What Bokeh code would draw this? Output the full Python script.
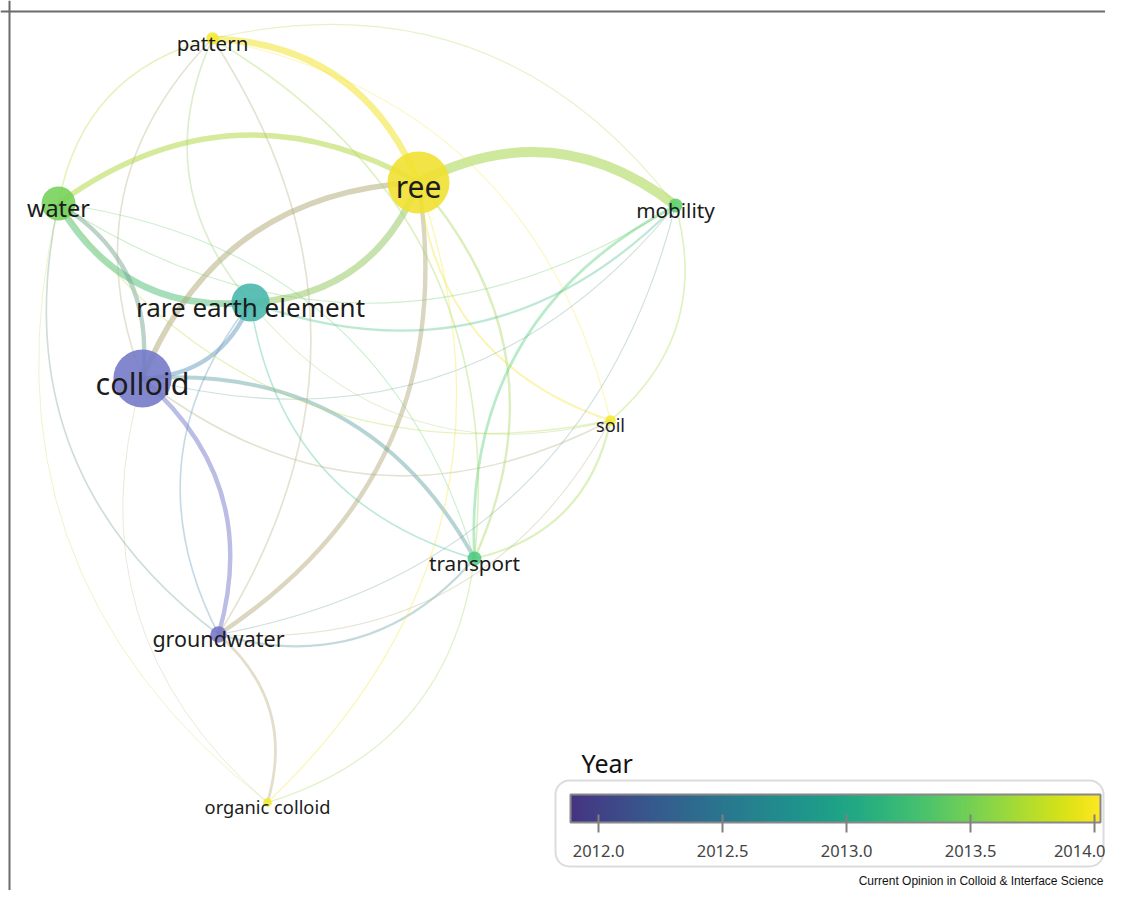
import numpy as np
from bokeh.plotting import figure
from bokeh.models import (Range1d, Span, ColumnDataSource, ColorBar, LinearColorMapper,
                          FixedTicker, PrintfTickFormatter, Label)
from bokeh.palettes import Viridis256
from bokeh.core.properties import value
from bokeh.embed import file_html
from bokeh.resources import INLINE

# ---------------- data ----------------
terms = ["pattern", "ree", "water", "mobility", "rare earth element", "colloid",
         "soil", "transport", "groundwater", "organic colloid"]
term_x = [212, 418, 58, 675, 250, 142, 610, 474, 218, 267]        # map layout coordinates
term_y = [38, 182, 203, 205, 302, 378, 420, 558, 634, 802]
occurrences = [4, 100, 30, 5, 38, 88, 3, 5, 7, 2]
avg_pub_year = [2014.10, 2014.00, 2013.55, 2013.45, 2013.00, 2012.10,
                2014.10, 2013.35, 2012.05, 2014.10]

link_source = ["ree", "pattern", "water", "rare earth element", "ree", "colloid",
               "rare earth element", "water", "colloid", "ree", "colloid", "ree",
               "soil", "transport", "pattern", "mobility", "soil", "mobility",
               "groundwater", "transport", "water", "colloid", "rare earth element",
               "pattern", "pattern", "pattern", "mobility", "groundwater", "water",
               "organic colloid", "soil", "mobility", "organic colloid", "transport",
               "groundwater", "soil", "transport", "ree", "soil", "mobility", "soil"]
link_target = ["mobility", "ree", "ree", "water", "rare earth element", "ree",
               "colloid", "colloid", "groundwater", "groundwater", "transport", "transport",
               "ree", "mobility", "transport", "soil", "transport", "rare earth element",
               "rare earth element", "rare earth element", "pattern", "pattern", "pattern",
               "groundwater", "mobility", "soil", "water", "water", "transport",
               "water", "colloid", "colloid", "colloid", "groundwater",
               "organic colloid", "groundwater", "organic colloid", "organic colloid",
               "rare earth element", "groundwater", "water"]
link_strength = [9, 6, 5, 6, 6, 5,
                 4, 4, 4, 4, 3.5, 2.2,
                 1.8, 2.5, 1.5, 1.5, 2, 2,
                 1.5, 1.5, 1.5, 1.5, 1.5,
                 1.5, 1, 1, 1, 1.5, 1,
                 0.8, 1.5, 1, 0.8, 2,
                 2.5, 1, 1.2, 1.2, 1, 1, 1.2]

year_ticks = [2012.0, 2012.5, 2013.0, 2013.5, 2014.0]

# ---------------- styles ----------------
label_px = [20.5, 30, 23.4, 20.7, 26, 30.5, 18.2, 20.7, 21.5, 18.3]
node_anchor_years = [2012.0, 2012.5, 2013.0, 2013.4, 2013.6, 2014.0, 2014.1]
node_anchor_rgb = [(120, 112, 200), (90, 150, 195), (70, 182, 172), (80, 206, 120),
                   (128, 208, 76), (240, 224, 45), (246, 232, 50)]
CURVE = 0.16


def year_rgb(y):
    return tuple(float(np.interp(y, node_anchor_years, [c[i] for c in node_anchor_rgb]))
                 for i in range(3))


def to_hex(rgb):
    return "#%02x%02x%02x" % tuple(int(round(v)) for v in rgb)


idx = {t: i for i, t in enumerate(terms)}
node_rgb = [year_rgb(y) for y in avg_pub_year]

# links as quadratic curves bending to the left of source->target
x0, y0, x1, y1, cx, cy, lw, lc, la = [], [], [], [], [], [], [], [], []
for s, t, w in zip(link_source, link_target, link_strength):
    a, b = idx[s], idx[t]
    ax, ay, bx, by = term_x[a], term_y[a], term_x[b], term_y[b]
    dx, dy = bx - ax, by - ay
    L = float(np.hypot(dx, dy))
    nx, ny = dy / L, -dx / L
    mx, my = (ax + bx) / 2, (ay + by) / 2
    x0.append(ax); y0.append(ay); x1.append(bx); y1.append(by)
    cx.append(mx + 2 * CURVE * L * nx); cy.append(my + 2 * CURVE * L * ny)
    lw.append(w * 1.1)
    ca, cb = node_rgb[a], node_rgb[b]
    lc.append(to_hex([(ca[i] + cb[i]) / 2 for i in range(3)]))
    la.append(min(0.55, 0.28 + 0.05 * w))

links = ColumnDataSource(dict(x0=x0, y0=y0, x1=x1, y1=y1, cx=cx, cy=cy, lw=lw, lc=lc, la=la))

nodes = ColumnDataSource(dict(
    x=term_x, y=term_y, term=terms,
    size=[2 * 3.1 * np.sqrt(o) for o in occurrences],
    color=[to_hex(c) for c in node_rgb],
    fs=["%.1fpx" % f for f in label_px],
))

p = figure(width=1105, height=890, output_backend="svg", toolbar_location=None,
           x_range=Range1d(0, 1105), y_range=Range1d(890, 0), min_border=0)
p.axis.visible = False
p.grid.visible = False
p.outline_line_color = None
p.background_fill_color = "white"

p.add_layout(Span(location=9, dimension="height", line_color="#6b6b6b", line_width=2))
p.add_layout(Span(location=11, dimension="width", line_color="#6b6b6b", line_width=2))

p.quadratic(x0="x0", y0="y0", x1="x1", y1="y1", cx="cx", cy="cy", source=links,
            line_width="lw", line_color="lc", line_alpha="la")

p.scatter(x="x", y="y", size="size", source=nodes, fill_color="color",
          fill_alpha=0.88, line_color=None)

p.text(x="x", y="y", text="term", source=nodes, text_font=value("Noto Sans"),
       text_font_size="fs", text_align="center", text_baseline="middle",
       text_color="#1c1c1c", y_offset=4)

# legend box + colour bar
p.quad(left=[555], right=[1103], top=[780], bottom=[866], border_radius=14,
       fill_color=None, line_color="#dcdcdc", line_width=2)

mapper = LinearColorMapper(palette=Viridis256[38:], low=2011.887, high=2014.024)
cb = ColorBar(color_mapper=mapper, orientation="horizontal", width=530, height=28,
              location=(570, 31), padding=0, margin=0,
              ticker=FixedTicker(ticks=year_ticks),
              formatter=PrintfTickFormatter(format="%.1f"),
              major_tick_in=8, major_tick_out=10, major_tick_line_color="#808080",
              major_tick_line_width=2, minor_tick_line_color=None,
              label_standoff=12, major_label_text_font="Noto Sans",
              major_label_text_font_size="16.5px", major_label_text_color="#444444",
              bar_line_color="#888888", bar_line_width=2,
              background_fill_alpha=0, border_line_color=None)
p.add_layout(cb)

p.add_layout(Label(x=581, y=762, text="Year", text_font="Noto Sans",
                   text_font_size="25px", text_color="#111111", text_baseline="middle"))
p.add_layout(Label(x=1103, y=880, text="Current Opinion in Colloid & Interface Science",
                   text_font="Liberation Sans", text_font_size="12px",
                   text_color="#111111", text_align="right", text_baseline="middle"))

open("out.html", "w").write(file_html(p, INLINE))
